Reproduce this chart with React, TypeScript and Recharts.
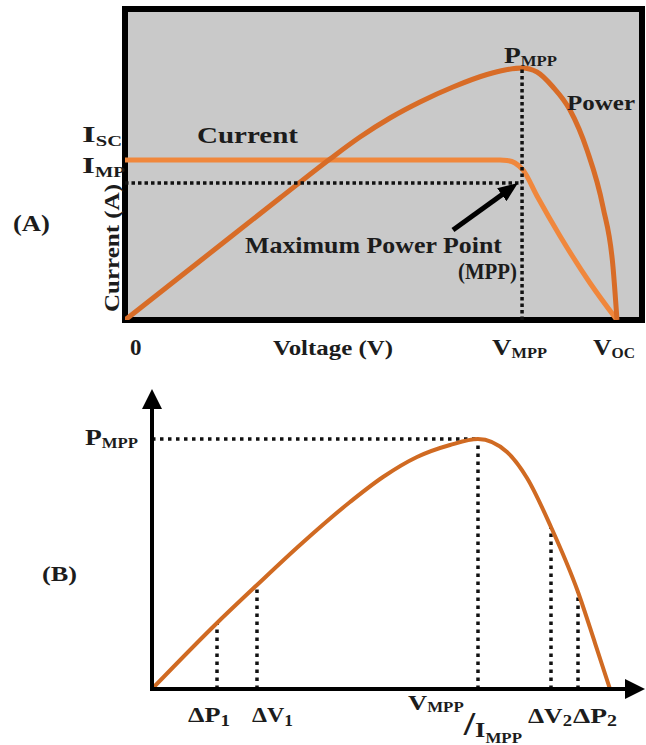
import React from 'react';
import {
  LineChart,
  Line,
  XAxis,
  YAxis,
  CartesianGrid,
  ReferenceLine,
  ReferenceArea,
  ReferenceDot,
} from 'recharts';

// ---------- Panel (A): I-V and P-V characteristics ----------
const ivVoltage = [0, 8.46, 18.133, 18.472, 18.859, 19.246, 19.923, 21.035, 22.486, 23.791];
const ivCurrent = [51.45, 51.45, 51.45, 51.29, 50.48, 48.23, 39.87, 27.01, 11.9, 0];

const pvVoltageA = [0, 3.627, 7.495, 9.913, 11.364, 12.814, 14.265, 15.861, 17.505, 18.375, 19.2, 19.923, 20.696, 21.518, 22.34, 23.114, 23.598, 23.791];
const pvPowerA = [0, 18.97, 39.23, 51.77, 58.84, 64.95, 70.1, 74.92, 78.94, 80.39, 81.03, 79.74, 74.92, 67.52, 54.66, 36.33, 17.04, 0];

const mppIndexA = 10;
const impLevelA = 44.05;
const arrowTailA = { v: 15.86, y: 28.94 };
const arrowHeadA = { v: 18.69, y: 42.54 };

// ---------- Panel (B): P-V curve with perturbations ----------
const pvVoltageB = [0, 3.351, 5.412, 7.629, 10.206, 11.907, 13.66, 15.361, 16.804, 18.299, 19.33, 20.567, 21.959, 22.835, 23.608];
const pvPowerB = [0, 22.6, 35.62, 49.32, 64.04, 72.6, 79.45, 83.56, 85.62, 81.16, 72.26, 55.48, 33.22, 15.75, 0];
const markerIndicesB = [1, 2, 8, 11, 12]; // ΔP1, ΔV1, VMPP, ΔV2, ΔP2
const mppIndexB = 8;

const ivData = ivVoltage.map((v, k) => ({ v, i: ivCurrent[k] }));
const pvDataA = pvVoltageA.map((v, k) => ({ v, p: pvPowerA[k] }));
const pvDataB = pvVoltageB.map((v, k) => ({ v, p: pvPowerB[k] }));

const FONT = '"Liberation Serif", "Times New Roman", serif';
const TEXT_COLOR = '#1c1c1c';

type Part = { t: string; size?: number; dy?: number };
type Ann = { x: number; y: number; parts: Part[]; len?: number; size?: number; rotate?: boolean };

const sub = (t: string, dy = 4, size = 14): Part => ({ t, size, dy });

const labelsA: Ann[] = [
  { x: -2.079, y: 57.23, parts: [{ t: 'I' }, sub('SC')], len: 40, size: 24 },
  { x: -2.079, y: 47.27, parts: [{ t: 'I' }, sub('MP')], len: 43, size: 24 },
  { x: 3.482, y: 56.91, parts: [{ t: 'Current' }], len: 101, size: 24 },
  { x: 21.373, y: 67.52, parts: [{ t: 'Power' }], len: 68, size: 20 },
  { x: 18.327, y: 82.64, parts: [{ t: 'P' }, sub('MPP', 3)], len: 53, size: 23 },
  { x: 5.803, y: 21.54, parts: [{ t: 'Maximum Power Point' }], len: 257, size: 23 },
  { x: 16.103, y: 13.18, parts: [{ t: '(MPP)' }], len: 59, size: 23 },
  { x: -5.416, y: 28.62, parts: [{ t: '(A)' }], len: 37, size: 23 },
  { x: -0.29, y: 2.57, parts: [{ t: 'Current (A)' }], len: 128, size: 22, rotate: true },
  { x: 0.242, y: -11.25, parts: [{ t: '0' }], size: 23 },
  { x: 7.157, y: -11.25, parts: [{ t: 'Voltage (V)' }], len: 120, size: 22 },
  { x: 17.747, y: -11.25, parts: [{ t: 'V' }, sub('MPP', 3)], len: 55, size: 23 },
  { x: 22.631, y: -11.25, parts: [{ t: 'V' }, sub('OC', 3)], len: 42, size: 23 },
];

const labelsB: Ann[] = [
  { x: -3.454, y: 83.56, parts: [{ t: 'P' }, sub('MPP', 3)], len: 53, size: 23 },
  { x: -5.67, y: 36.99, parts: [{ t: '(B)' }], len: 35, size: 22 },
  { x: 1.856, y: -11.3, parts: [{ t: 'ΔP' }, sub('1', 4, 16)], len: 42, size: 22 },
  { x: 5.155, y: -11.3, parts: [{ t: 'ΔV' }, sub('1', 4, 16)], len: 41, size: 22 },
  {
    x: 13.196,
    y: -7.19,
    parts: [
      { t: 'V' },
      sub('MPP', 2),
      { t: '/', size: 34, dy: 25 },
      { t: 'I', size: 22, dy: 27 },
      { t: 'MPP', size: 14, dy: 33 },
    ],
    len: 114,
    size: 22,
  },
  { x: 19.381, y: -11.64, parts: [{ t: 'ΔV' }, sub('2', 3, 16)], len: 44, size: 22 },
  { x: 21.701, y: -11.64, parts: [{ t: 'ΔP' }, sub('2', 3, 16)], len: 44, size: 22 },
];

function makeLabel(a: Ann) {
  return (props: any) => {
    const vb = props.viewBox || {};
    const x = (vb.x ?? 0) + (vb.width ?? 0) / 2;
    const y = (vb.y ?? 0) + (vb.height ?? 0) / 2;
    let prev = 0;
    return (
      <text
        x={x}
        y={y}
        textAnchor="start"
        fontFamily={FONT}
        fontWeight="bold"
        fill={TEXT_COLOR}
        fontSize={a.size ?? 22}
        textLength={a.len}
        lengthAdjust={a.len ? 'spacingAndGlyphs' : undefined}
        transform={a.rotate ? `rotate(-90 ${x} ${y})` : undefined}
      >
        {a.parts.map((p, k) => {
          const off = p.dy ?? 0;
          const d = off - prev;
          prev = off;
          return (
            <tspan key={k} fontSize={p.size ?? a.size ?? 22} dy={d}>
              {p.t}
            </tspan>
          );
        })}
      </text>
    );
  };
}

const renderAnnotations = (list: Ann[], prefix: string) =>
  list.map((a, k) => (
    <ReferenceDot
      key={`${prefix}${k}`}
      x={a.x}
      y={a.y}
      r={0}
      fill="none"
      stroke="none"
      ifOverflow="visible"
      label={makeLabel(a)}
    />
  ));

const arrowShape = (props: any) => (
  <line
    x1={props.x1}
    y1={props.y1}
    x2={props.x2}
    y2={props.y2}
    stroke="#000"
    strokeWidth={5}
    markerEnd="url(#arrowA)"
  />
);

export default function App() {
  const vmppA = pvVoltageA[mppIndexA];
  const pmppA = pvPowerA[mppIndexA];
  const vmppB = pvVoltageB[mppIndexB];
  const pmppB = pvPowerB[mppIndexB];

  return (
    <div style={{ position: 'absolute', left: 0, top: 0, width: 646, height: 745, background: '#fff' }}>
      <div style={{ position: 'absolute', left: 0, top: 0 }}>
        <LineChart width={646} height={365} margin={{ top: 9, right: 4, bottom: 45, left: 125 }}>
          <defs>
            <marker
              id="arrowA"
              markerUnits="userSpaceOnUse"
              markerWidth={20}
              markerHeight={16}
              refX={12}
              refY={8}
              orient="auto"
              viewBox="0 0 20 16"
            >
              <path d="M0,0 L20,8 L0,16 z" fill="#000" />
            </marker>
          </defs>
          <CartesianGrid fill="#c9c9c9" horizontal={false} vertical={false} stroke="none" />
          <XAxis type="number" dataKey="v" domain={[0, 25]} hide allowDataOverflow />
          <YAxis type="number" domain={[0, 100]} hide allowDataOverflow />
          <Line
            data={ivData}
            dataKey="i"
            type="monotone"
            stroke="#f0873c"
            strokeWidth={5}
            dot={false}
            activeDot={false}
            isAnimationActive={false}
          />
          <Line
            data={pvDataA}
            dataKey="p"
            type="monotone"
            stroke="#d86c27"
            strokeWidth={5}
            dot={false}
            activeDot={false}
            isAnimationActive={false}
          />
          <ReferenceLine
            segment={[{ x: 0, y: impLevelA }, { x: vmppA, y: impLevelA }]}
            stroke="#111"
            strokeWidth={3.5}
            strokeDasharray="3.5 3"
            ifOverflow="visible"
          />
          <ReferenceLine
            segment={[{ x: vmppA, y: 0 }, { x: vmppA, y: pmppA }]}
            stroke="#111"
            strokeWidth={3.5}
            strokeDasharray="3.5 3"
            ifOverflow="visible"
          />
          <ReferenceLine
            segment={[{ x: arrowTailA.v, y: arrowTailA.y }, { x: arrowHeadA.v, y: arrowHeadA.y }]}
            shape={arrowShape}
            ifOverflow="visible"
          />
          <ReferenceArea
            x1={0}
            x2={25}
            y1={0}
            y2={100}
            fill="none"
            stroke="#000"
            strokeWidth={6}
            ifOverflow="visible"
          />
          {renderAnnotations(labelsA, 'a')}
        </LineChart>
      </div>
      <div style={{ position: 'absolute', left: 0, top: 365 }}>
        <LineChart width={646} height={380} margin={{ top: 32, right: 9, bottom: 46, left: 142 }}>
          <defs>
            <marker
              id="arrowB"
              markerUnits="userSpaceOnUse"
              markerWidth={20}
              markerHeight={20}
              refX={12}
              refY={10}
              orient="auto-start-reverse"
              viewBox="0 0 20 20"
            >
              <path d="M0,0 L20,10 L0,20 z" fill="#000" />
            </marker>
          </defs>
          <XAxis
            type="number"
            dataKey="v"
            domain={[0, 25]}
            allowDataOverflow
            tick={false}
            tickLine={false}
            height={10}
            axisLine={{ stroke: '#000', strokeWidth: 4, strokeLinecap: 'square', markerEnd: 'url(#arrowB)' }}
          />
          <YAxis
            type="number"
            domain={[0, 100]}
            allowDataOverflow
            tick={false}
            tickLine={false}
            width={10}
            axisLine={{ stroke: '#000', strokeWidth: 4, strokeLinecap: 'square', markerStart: 'url(#arrowB)' }}
          />
          <ReferenceLine
            segment={[{ x: 0, y: pmppB }, { x: vmppB, y: pmppB }]}
            stroke="#111"
            strokeWidth={3.5}
            strokeDasharray="3.5 4.5"
            ifOverflow="visible"
          />
          {markerIndicesB.map((idx) => (
            <ReferenceLine
              key={`m${idx}`}
              segment={[{ x: pvVoltageB[idx], y: 0 }, { x: pvVoltageB[idx], y: pvPowerB[idx] }]}
              stroke="#111"
              strokeWidth={3.5}
              strokeDasharray="3.5 4.5"
              ifOverflow="visible"
            />
          ))}
          <Line
            data={pvDataB}
            dataKey="p"
            type="monotone"
            stroke="#d06a22"
            strokeWidth={4}
            dot={false}
            activeDot={false}
            isAnimationActive={false}
          />
          {renderAnnotations(labelsB, 'b')}
        </LineChart>
      </div>
    </div>
  );
}
